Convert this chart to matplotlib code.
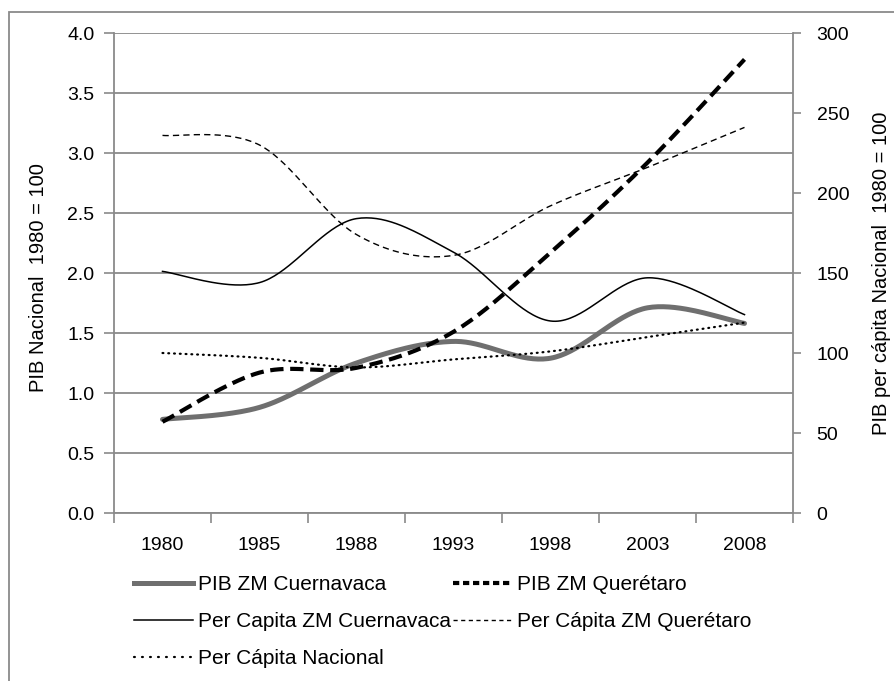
import numpy as np
import matplotlib
matplotlib.use("Agg")
import matplotlib.pyplot as plt
from matplotlib.lines import Line2D
from matplotlib.patches import Rectangle

plt.rcParams['font.family'] = ['Liberation Sans', 'DejaVu Sans']

years = ["1980", "1985", "1988", "1993", "1998", "2003", "2008"]
pib_cuernavaca = [0.78, 0.88, 1.25, 1.43, 1.29, 1.71, 1.58]
pib_queretaro = [0.76, 1.17, 1.21, 1.51, 2.17, 2.92, 3.78]
pc_cuernavaca = [151, 144, 184, 163, 120, 147, 124]
pc_queretaro = [236, 230, 174, 161, 192, 216, 241]
pc_nacional = [100, 97, 91, 96, 101, 110, 119]

left_ticks = [0.0, 0.5, 1.0, 1.5, 2.0, 2.5, 3.0, 3.5, 4.0]
right_ticks = [0, 50, 100, 150, 200, 250, 300]


def smooth(xs, ys, n=40):
    P = np.column_stack([xs, ys]).astype(float)
    m = len(P)
    out = [P[0]]
    for i in range(m - 1):
        p0 = P[max(i - 1, 0)]
        p1 = P[i]
        p2 = P[i + 1]
        p3 = P[min(i + 2, m - 1)]
        b1 = p1 + (p2 - p0) / 6.0
        b2 = p2 - (p3 - p1) / 6.0
        t = np.linspace(0, 1, n)[1:, None]
        seg = ((1 - t) ** 3) * p1 + 3 * ((1 - t) ** 2) * t * b1 + 3 * (1 - t) * t ** 2 * b2 + t ** 3 * p2
        out.extend(seg)
    out = np.array(out)
    return out[:, 0], out[:, 1]


W, H = 894, 681
fig = plt.figure(figsize=(W / 100, H / 100), dpi=100)
L, R, T, B = 114, 793, 33, 513
ax = fig.add_axes([L / W, 1 - B / H, (R - L) / W, (B - T) / H])
ax2 = ax.twinx()

gray = '#8a8a8a'
x = np.arange(len(years))

# left axis series
sx, sy = smooth(x, pib_cuernavaca)
ax.plot(sx, sy, color='#6f6f6f', lw=3.6, solid_capstyle='round', zorder=5)
sx, sy = smooth(x, pib_queretaro)
ax.plot(sx, sy, color='black', lw=3.0, dashes=(3.2, 1.6), zorder=6)

# right axis series
sx, sy = smooth(x, pc_cuernavaca)
ax2.plot(sx, sy, color='black', lw=1.1)
sx, sy = smooth(x, pc_queretaro)
ax2.plot(sx, sy, color='black', lw=1.0, dashes=(4.5, 3.0))
sx, sy = smooth(x, pc_nacional)
ax2.plot(sx, sy, color='black', lw=1.6, dashes=(0.4, 2.2), dash_capstyle='round')

ax.set_xlim(-0.5, len(years) - 0.5)
ax.set_ylim(0, 4.0)
ax2.set_ylim(0, 300)

ax.set_yticks(left_ticks)
ax.set_yticklabels([f"{v:.1f}" for v in left_ticks])
ax2.set_yticks(right_ticks)
ax2.set_yticklabels([str(v) for v in right_ticks])

ax.set_xticks(x)
ax.set_xticklabels(years)
ax.set_xticks(np.arange(-0.5, len(years)), minor=True)
ax.tick_params(axis='x', which='major', length=0, pad=17, labelsize=14)
ax.tick_params(axis='x', which='minor', length=7, width=1.2, color=gray, direction='out')
ax.tick_params(axis='y', length=7, width=1.2, color=gray, direction='out', pad=7, labelsize=14)
ax2.tick_params(axis='y', length=6, width=1.2, color=gray, direction='out', pad=11, labelsize=14)

ax.yaxis.grid(True, color=gray, lw=1.3)
ax.set_axisbelow(True)

for a in (ax, ax2):
    a.spines['top'].set_visible(False)
    for s in ('left', 'right', 'bottom'):
        a.spines[s].set_color(gray)
        a.spines[s].set_linewidth(1.3)
ax.spines['right'].set_visible(False)
ax2.spines['left'].set_visible(False)
ax2.spines['bottom'].set_visible(False)

ax.set_ylabel("PIB Nacional  1980 = 100", fontsize=14.5)
ax.yaxis.set_label_coords((48 - L) / (R - L), 0.49)
ax2.set_ylabel("PIB per cápita Nacional  1980 = 100", fontsize=14.5, rotation=90)
ax2.yaxis.set_label_coords((872 - L) / (R - L), 0.5)

handles = [
    Line2D([], [], color='#6f6f6f', lw=3.6),
    Line2D([], [], color='black', lw=1.1),
    Line2D([], [], color='black', lw=1.6, dashes=(0.4, 3.2), dash_capstyle='round'),
    Line2D([], [], color='black', lw=3.0, dashes=(1.5, 0.9)),
    Line2D([], [], color='black', lw=1.0, dashes=(3.0, 2.5)),
]
labels = ["PIB ZM Cuernavaca", "Per Capita ZM Cuernavaca", "Per Cápita Nacional",
          "PIB ZM Querétaro", "Per Cápita ZM Querétaro"]
fig.legend(handles, labels, ncol=2, loc='upper left',
           bbox_to_anchor=(134 / W, 1 - 575 / H), frameon=False, fontsize=15,
           handlelength=2.85, handletextpad=0.2, columnspacing=0.12,
           labelspacing=0.86, borderpad=0, borderaxespad=0)

fig.patches.append(Rectangle((9 / W, -0.1), 1.2, 1 - 12 / H + 0.1,
                             transform=fig.transFigure, fill=False,
                             edgecolor=gray, lw=1.3))

fig.savefig("out.png", dpi=100)
